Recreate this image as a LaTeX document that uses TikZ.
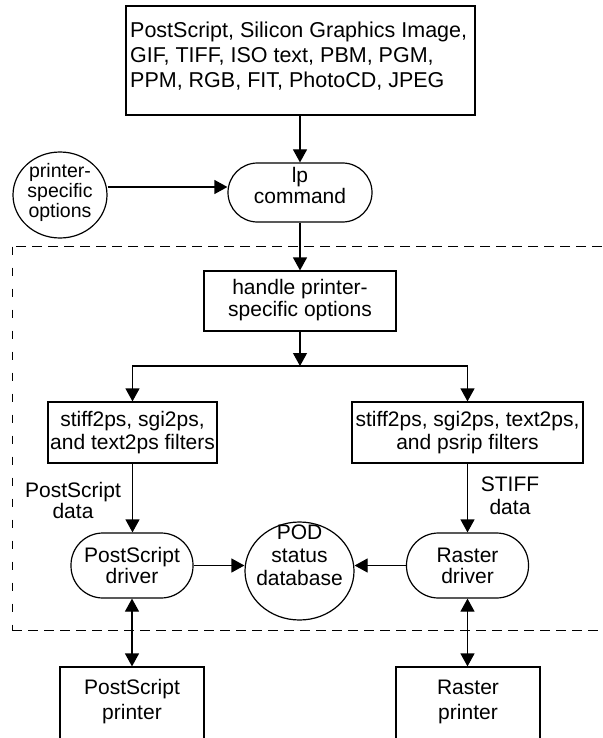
\documentclass[tikz,border=0pt]{standalone}
\usepackage{fontspec}
\setmainfont{Liberation Sans}
\usetikzlibrary{arrows.meta,shapes.geometric,calc}
\newcommand\zs{\rule[-4.5pt]{0pt}{15.5pt}}
\newcommand\zfont[1]{\fontsize{21pt}{#1pt}\selectfont\setlength{\lineskiplimit}{-1000pt}}
\begin{document}
\begin{tikzpicture}[x=1pt,y=-1pt,
  every node/.style={inner sep=0pt},
  ln/.style={line width=1.2pt},
  arr/.style={ln,-{Triangle[length=13pt,width=14pt]}},
  darr/.style={ln,{Triangle[length=13pt,width=14pt]}-{Triangle[length=13pt,width=14pt]}},
  boxn/.style={draw,line width=1.2pt,rectangle},
  pill/.style={draw,line width=1.2pt,rectangle,rounded corners=#1},
  oval/.style={draw,line width=1.2pt,ellipse},
  txt/.style={align=center,font=\zfont{#1}},
  hdash/.style={line width=1pt,dash pattern=on 10pt off 6pt},
  vdash/.style={line width=1pt,dash pattern=on 8pt off 13pt}]
\useasboundingbox (0,0) rectangle (602,738);
\fill[white] (0,0) rectangle (602,738);
% dashed boundary
\draw[hdash] (602,246.5) -- (12,246.5);
\draw[vdash] (12,246.5) -- (12,630);
\draw[hdash] (12,630) -- (602,630);
% nodes
\node[boxn,minimum width=349pt,minimum height=109pt] (top) at (300.5,60.5) {};
\node[align=left,anchor=west,font=\fontsize{21.5pt}{25pt}\selectfont] (toptext) at (130,56.5) {\zs PostScript, Silicon Graphics Image,\\GIF, TIFF, ISO text, PBM, PGM,\\PPM, RGB, FIT, PhotoCD, JPEG\zs};
\node[pill=29.5pt,minimum width=144pt,minimum height=59pt] (lp) at (300,192.5) {};
\node[txt=21] (lptext) at (300,188) {\zs lp\\command\zs};
\node[oval,minimum width=94pt,minimum height=86pt] (opts) at (60,195) {};
\node[align=center,font=\fontsize{19.5pt}{20pt}\selectfont\setlength{\lineskiplimit}{-1000pt}] (optstext) at (60,192) {printer-\\specific\\options};
\node[boxn,minimum width=192pt,minimum height=60pt] (handle) at (300,301) {};
\node[txt=22] (handletext) at (300,300.5) {\zs handle printer-\\specific options\zs};
\node[boxn,minimum width=169pt,minimum height=61pt] (lf) at (132.5,432.5) {};
\node[txt=23] (lftext) at (132.5,433) {\zs stiff2ps, sgi2ps,\\and text2ps filters\zs};
\node[boxn,minimum width=231pt,minimum height=61pt] (rf) at (467.5,432.5) {};
\node[txt=23] (rftext) at (467.5,433) {\zs stiff2ps, sgi2ps, text2ps,\\and psrip filters\zs};
\node[pill=32pt,minimum width=122pt,minimum height=65pt] (psd) at (132,565.5) {};
\node[txt=21] (psdtext) at (132,568) {\zs PostScript\\driver\zs};
\node[pill=32pt,minimum width=122pt,minimum height=65pt] (rd) at (467.5,565.5) {};
\node[txt=21] (rdtext) at (467.5,568) {\zs Raster\\driver\zs};
\node[oval,minimum width=109pt,minimum height=98pt] (pod) at (299.5,571) {};
\node[txt=23] (podtext) at (299.5,557.5) {\zs POD\\status\\database\zs};
\node[boxn,minimum width=144pt,minimum height=72pt] (psp) at (132,703) {};
\node[txt=25] (psptext) at (132,702) {\zs PostScript\\printer\zs};
\node[boxn,minimum width=144pt,minimum height=72pt] (rp) at (468,703) {};
\node[txt=25] (rptext) at (468,702) {\zs Raster\\printer\zs};
\node[txt=21] (pslabel) at (73,503) {\zs PostScript\\data\zs};
\node[txt=23] (stifflabel) at (510,497.5) {\zs STIFF\\data\zs};
% connectors
\draw[arr] (lp |- top.south) -- (lp.north);
\draw[arr] ([yshift=8pt]opts.east) -- ([yshift=5.5pt]lp.west);
\draw[arr] (lp.south) -- (handle.north);
\coordinate (split) at (300,366);
\draw[arr] (handle.south) -- (split);
\draw[arr] (split) -| (lf.north);
\draw[arr] (split) -| (rf.north);
\draw[arr] (lf.south) -- (lf.south |- psd.north);
\draw[arr] (rf.south) -- (rf.south |- rd.north);
\draw[arr] (psd.east) -- (psd.east -| pod.west);
\draw[arr] (rd.west) -- (rd.west -| pod.east);
\draw[darr] (psd.south) -- (psd.south |- psp.north);
\draw[darr] (rd.south) -- (rd.south |- rp.north);
\end{tikzpicture}
\end{document}
